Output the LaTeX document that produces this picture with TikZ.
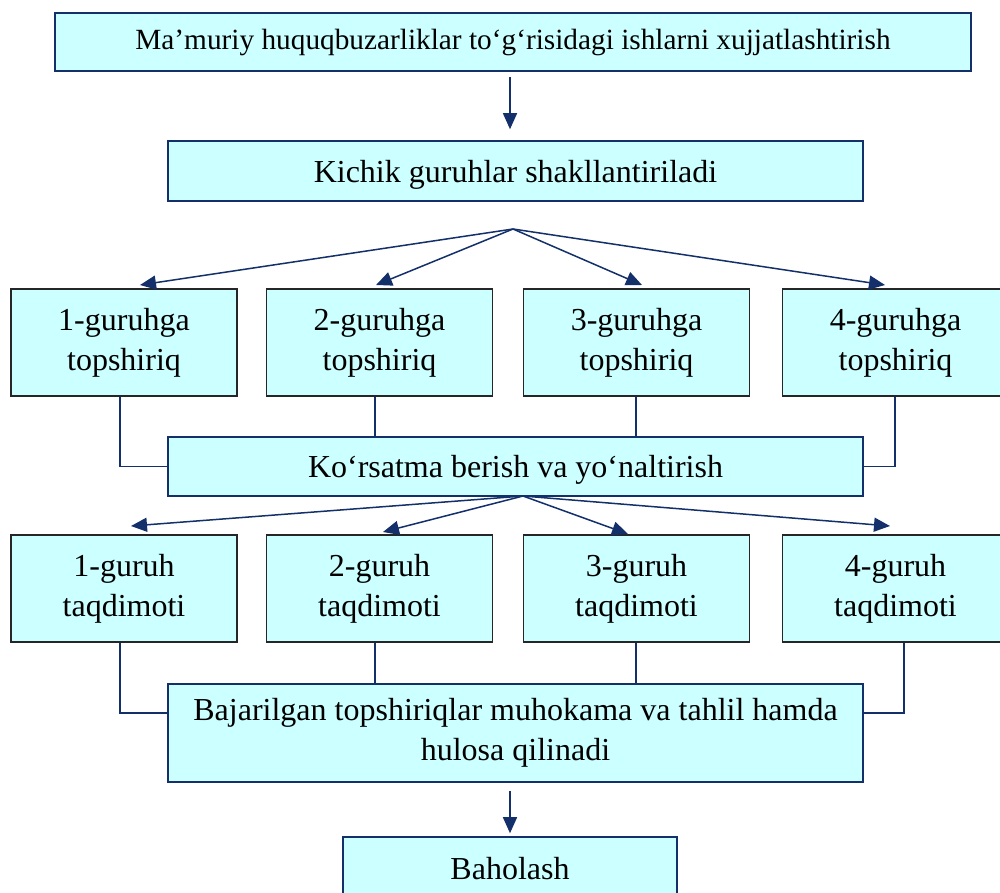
\documentclass[tikz,border=0pt]{standalone}
\usepackage{fontspec}
\setmainfont{Liberation Serif}
\usetikzlibrary{arrows.meta,calc}
\definecolor{boxfill}{HTML}{CCFFFF}
\definecolor{navy}{HTML}{13306B}
\begin{document}
\begin{tikzpicture}[x=1pt,y=-1pt,
  box/.style={draw=navy,line width=1.6pt,fill=boxfill,inner sep=0pt,align=center,
    font=\fontsize{32}{40}\selectfont},
  one/.style={text depth=0pt},
  gbox/.style={box,draw=black!85,minimum width=226pt,minimum height=107pt},
  wide/.style={minimum width=695pt},
  arr/.style={draw=navy,line width=1.5pt,-{Triangle[length=16pt,width=14pt]}},
  ln/.style={draw=navy,line width=1.3pt}]
\useasboundingbox (0,0) rectangle (1000,892);
\fill[white] (0,0) rectangle (1000,892);

\node[box,minimum width=916pt,minimum height=58pt,font=\fontsize{29.3}{36}\selectfont] (top) at (513,42)
  {Ma’muriy huquqbuzarliklar to‘g‘risidagi ishlarni xujjatlashtirish};
\node[box,one,wide,minimum height=60pt] (kg) at (515.5,171) {Kichik guruhlar shakllantiriladi};

\node[gbox] (g1) at (124,342.5) {1-guruhga\\topshiriq};
\node[gbox] (g2) at (379.5,342.5) {2-guruhga\\topshiriq};
\node[gbox] (g3) at (636.5,342.5) {3-guruhga\\topshiriq};
\node[gbox] (g4) at (895.5,342.5) {4-guruhga\\topshiriq};

\node[box,one,wide,minimum height=59pt] (k) at (515.5,466.5) {Ko‘rsatma berish va yo‘naltirish};

\node[gbox] (t1) at (124,588.5) {1-guruh\\taqdimoti};
\node[gbox] (t2) at (379.5,588.5) {2-guruh\\taqdimoti};
\node[gbox] (t3) at (636.5,588.5) {3-guruh\\taqdimoti};
\node[gbox] (t4) at (895.5,588.5) {4-guruh\\taqdimoti};

\node[box,wide,minimum height=98pt] (b) at (515.5,733)
  {Bajarilgan topshiriqlar muhokama va tahlil hamda\\hulosa qilinadi};

\node[box,one,minimum width=334pt,minimum height=62pt] (h) at (510,868) {Baholash};

% top arrow
\coordinate (s1) at ($(top.south)+(-3,5)$);
\coordinate (e1) at ($(kg.north)+(-5.5,-11)$);
\draw[arr] (s1) -- (e1);

% first fan
\coordinate (f1) at (513,229);
\coordinate (a1) at (140,285);
\coordinate (a2) at (376,285);
\coordinate (a3) at (642,285);
\coordinate (a4) at (885,285);
\foreach \i in {1,...,4} \draw[arr] (f1) -- (a\i);

% connectors to Ko'rsatma
\draw[ln] ([xshift=-4pt]g1.south) |- (k.west);
\draw[ln] ([xshift=-4.5pt]g2.south) -- ([xshift=-4.5pt]g2.south |- k.north);
\draw[ln] ([xshift=-0.5pt]g3.south) -- ([xshift=-0.5pt]g3.south |- k.north);
\draw[ln] ([xshift=-0.5pt]g4.south) |- (k.east);

% second fan
\coordinate (f2) at (523,496);
\coordinate (b1) at (131,526);
\coordinate (b2) at (383,532);
\coordinate (b3) at (628,534);
\coordinate (b4) at (890,526);
\foreach \i in {1,...,4} \draw[arr] (f2) -- (b\i);

% connectors to Bajarilgan
\draw[ln] ([xshift=-4pt]t1.south) |- ([yshift=20pt]b.west);
\draw[ln] ([xshift=-4.5pt]t2.south) -- ([xshift=-4.5pt]t2.south |- b.north);
\draw[ln] ([xshift=-0.5pt]t3.south) -- ([xshift=-0.5pt]t3.south |- b.north);
\draw[ln] ([xshift=8.5pt]t4.south) |- ([yshift=20pt]b.east);

% bottom arrow
\coordinate (s2) at ($(b.south)+(-5.5,8)$);
\coordinate (e2) at ($(h.north)+(0,-3)$);
\draw[arr] (s2) -- (e2);
\end{tikzpicture}
\end{document}
